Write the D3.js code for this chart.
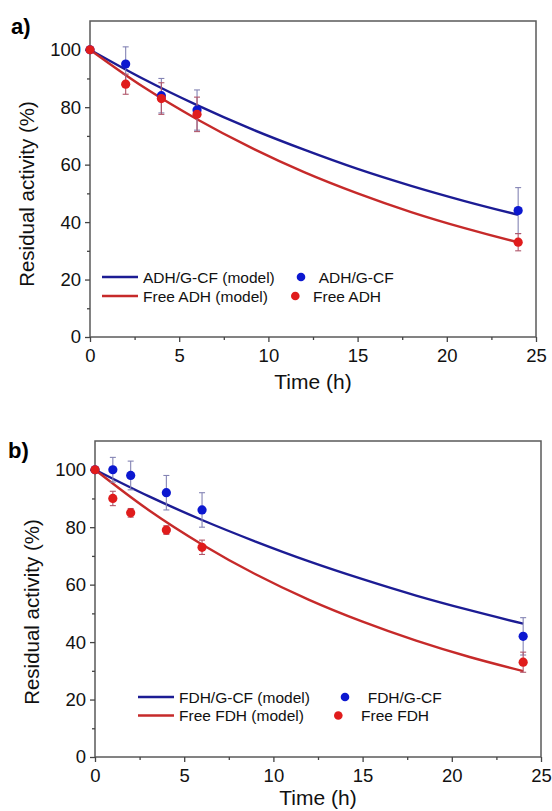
<!DOCTYPE html>
<html>
<head>
<meta charset="utf-8">
<script src="https://cdn.jsdelivr.net/npm/d3@7"></script>
<style>
  html, body { margin: 0; padding: 0; background: #fff; }
  svg { display: block; font-family: "Liberation Sans", Arial, sans-serif; }
</style>
</head>
<body>
<svg id="chart" width="552" height="811"></svg>
<script>
// model curves
const modelTime = [0, 3, 6, 9, 12, 15, 18, 21, 24];
const adhGcfModel = [100, 89.8, 80.7, 72.5, 65.2, 58.5, 52.6, 47.3, 42.5];
const freeAdhModel = [100, 87.0, 75.8, 66.0, 57.4, 50.0, 43.5, 37.9, 33.0];
const fdhGcfModel = [100, 90.8, 82.5, 75.0, 68.1, 61.9, 56.2, 51.1, 46.4];
const freeFdhModel = [100, 86.0, 74.0, 63.6, 54.7, 47.1, 40.5, 34.8, 29.9];

// measured points
const adhTime = [0, 2, 4, 6, 24];
const adhGcf = [100, 95, 84, 79, 44];
const adhGcfErr = [0, 6, 6, 7, 8];
const freeAdh = [100, 88, 83, 77.5, 33];
const freeAdhErr = [0, 3.5, 5.5, 6, 3];

const fdhTime = [0, 1, 2, 4, 6, 24];
const fdhGcf = [100, 100, 98, 92, 86, 42];
const fdhGcfErr = [0, 4.3, 5, 6, 6, 6.5];
const freeFdh = [100, 90, 85, 79, 73, 33];
const freeFdhErr = [0, 2.5, 1.5, 1.5, 2.5, 3.5];

const xTicks = [0, 5, 10, 15, 20, 25];
const yTicks = [0, 20, 40, 60, 80, 100];

const blueLine = "#1c1c94";
const redLine = "#c62a2a";
const blueDot = "#0c18d0";
const redDot = "#e01c1c";

const svg = d3.select("#chart");

window.onload = function() {
  drawPanel({
    label: "a)", labelX: 11, labelY: 34,
    left: 90, top: 21, right: 536, bottom: 337,
    titleY: 194, titleX: 34, xTitleY: 389,
    series: [
      { name: "ADH/G-CF", t: adhTime, v: adhGcf, e: adhGcfErr, model: adhGcfModel, line: blueLine, dot: blueDot, err: "#8484b4" },
      { name: "Free ADH", t: adhTime, v: freeAdh, e: freeAdhErr, model: freeAdhModel, line: redLine, dot: redDot, err: "#b0566a" }
    ],
    legend: { lx: 102, ly: 277, dy: 19, dots: [[301, 318.7], [295.3, 313]] }
  });
  drawPanel({
    label: "b)", labelX: 8, labelY: 458,
    left: 95, top: 441, right: 541, bottom: 757,
    titleY: 612, titleX: 39, xTitleY: 805,
    series: [
      { name: "FDH/G-CF", t: fdhTime, v: fdhGcf, e: fdhGcfErr, model: fdhGcfModel, line: blueLine, dot: blueDot, err: "#8484b4" },
      { name: "Free FDH", t: fdhTime, v: freeFdh, e: freeFdhErr, model: freeFdhModel, line: redLine, dot: redDot, err: "#b0566a" }
    ],
    legend: { lx: 138, ly: 697, dy: 18.5, dots: [[345, 367.7], [338.3, 361]] }
  });
};

function drawPanel(p) {
  const x = d3.scaleLinear().domain([0, 25]).range([p.left, p.right]);
  const y = d3.scaleLinear().domain([0, 110]).range([p.bottom, p.top]);
  const g = svg.append("g");

  // frame
  g.append("rect")
    .attr("x", p.left).attr("y", p.top)
    .attr("width", p.right - p.left).attr("height", p.bottom - p.top)
    .attr("fill", "none").attr("stroke", "#5a5a5a").attr("stroke-width", 1.5);

  // minor ticks
  g.append("g")
    .attr("transform", `translate(0,${p.bottom})`)
    .call(d3.axisBottom(x).tickValues([2.5, 7.5, 12.5, 17.5, 22.5]).tickSize(3).tickFormat(""))
    .call(s => s.select(".domain").remove())
    .call(s => s.selectAll("line").attr("stroke", "#444").attr("stroke-width", 1.3));
  g.append("g")
    .attr("transform", `translate(${p.left},0)`)
    .call(d3.axisLeft(y).tickValues([10, 30, 50, 70, 90]).tickSize(3).tickFormat(""))
    .call(s => s.select(".domain").remove())
    .call(s => s.selectAll("line").attr("stroke", "#444").attr("stroke-width", 1.3));

  // major ticks
  const xa = g.append("g")
    .attr("transform", `translate(0,${p.bottom})`)
    .call(d3.axisBottom(x).tickValues(xTicks).tickSize(5).tickPadding(7))
    .call(s => s.select(".domain").remove());
  xa.selectAll("line").attr("stroke", "#444").attr("stroke-width", 1.3);
  xa.selectAll("text").attr("font-size", 18.5).attr("fill", "#111").attr("font-family", null);

  const ya = g.append("g")
    .attr("transform", `translate(${p.left},0)`)
    .call(d3.axisLeft(y).tickValues(yTicks).tickSize(5).tickPadding(4))
    .call(s => s.select(".domain").remove());
  ya.selectAll("line").attr("stroke", "#444").attr("stroke-width", 1.3);
  ya.selectAll("text").attr("font-size", 18.5).attr("fill", "#111").attr("font-family", null);

  // titles
  g.append("text")
    .attr("x", (p.left + p.right) / 2).attr("y", p.xTitleY)
    .attr("text-anchor", "middle").attr("font-size", 21).attr("fill", "#111")
    .text("Time (h)");
  g.append("text")
    .attr("transform", `translate(${p.titleX},${p.titleY}) rotate(-90)`)
    .attr("text-anchor", "middle").attr("font-size", 20.5).attr("fill", "#111")
    .text("Residual activity (%)");
  g.append("text")
    .attr("x", p.labelX).attr("y", p.labelY)
    .attr("font-size", 22).attr("font-weight", "bold").attr("fill", "#000")
    .text(p.label);

  // model lines
  const line = d3.line()
    .x(d => x(d[0])).y(d => y(d[1]))
    .curve(d3.curveCatmullRom);
  p.series.forEach(s => {
    g.append("path")
      .attr("d", line(modelTime.map((t, i) => [t, s.model[i]])))
      .attr("fill", "none").attr("stroke", s.line).attr("stroke-width", 2.4);
  });

  // error bars and points
  p.series.forEach(s => {
    const pts = s.t.map((t, i) => ({ t: t, v: s.v[i], e: s.e[i] })).filter(d => d.e > 0);
    const eb = g.append("g").attr("stroke", s.err).attr("stroke-width", 1.1);
    eb.selectAll(".v").data(pts).join("line")
      .attr("x1", d => x(d.t)).attr("x2", d => x(d.t))
      .attr("y1", d => y(d.v - d.e)).attr("y2", d => y(d.v + d.e));
    eb.selectAll(".c1").data(pts).join("line").attr("class", "c1")
      .attr("x1", d => x(d.t) - 3).attr("x2", d => x(d.t) + 3)
      .attr("y1", d => y(d.v + d.e)).attr("y2", d => y(d.v + d.e));
    eb.selectAll(".c2").data(pts).join("line").attr("class", "c2")
      .attr("x1", d => x(d.t) - 3).attr("x2", d => x(d.t) + 3)
      .attr("y1", d => y(d.v - d.e)).attr("y2", d => y(d.v - d.e));
  });
  p.series.forEach(s => {
    g.append("g").selectAll("circle")
      .data(s.t.map((t, i) => [t, s.v[i]]))
      .join("circle")
      .attr("cx", d => x(d[0])).attr("cy", d => y(d[1]))
      .attr("r", 4.6).attr("fill", s.dot);
  });

  // legend
  const L = p.legend;
  p.series.forEach((s, i) => {
    const ly = L.ly + i * L.dy;
    g.append("line")
      .attr("x1", L.lx).attr("x2", L.lx + 36).attr("y1", ly).attr("y2", ly)
      .attr("stroke", s.line).attr("stroke-width", 2.4);
    g.append("text")
      .attr("x", L.lx + 41).attr("y", ly + 5.5)
      .attr("font-size", 15.5).attr("fill", "#111")
      .text(s.name + " (model)");
    g.append("circle")
      .attr("cx", L.dots[i][0]).attr("cy", ly).attr("r", 4.3).attr("fill", s.dot);
    g.append("text")
      .attr("x", L.dots[i][1]).attr("y", ly + 5.5)
      .attr("font-size", 15.5).attr("fill", "#111")
      .text(s.name);
  });
}
</script>
</body>
</html>
